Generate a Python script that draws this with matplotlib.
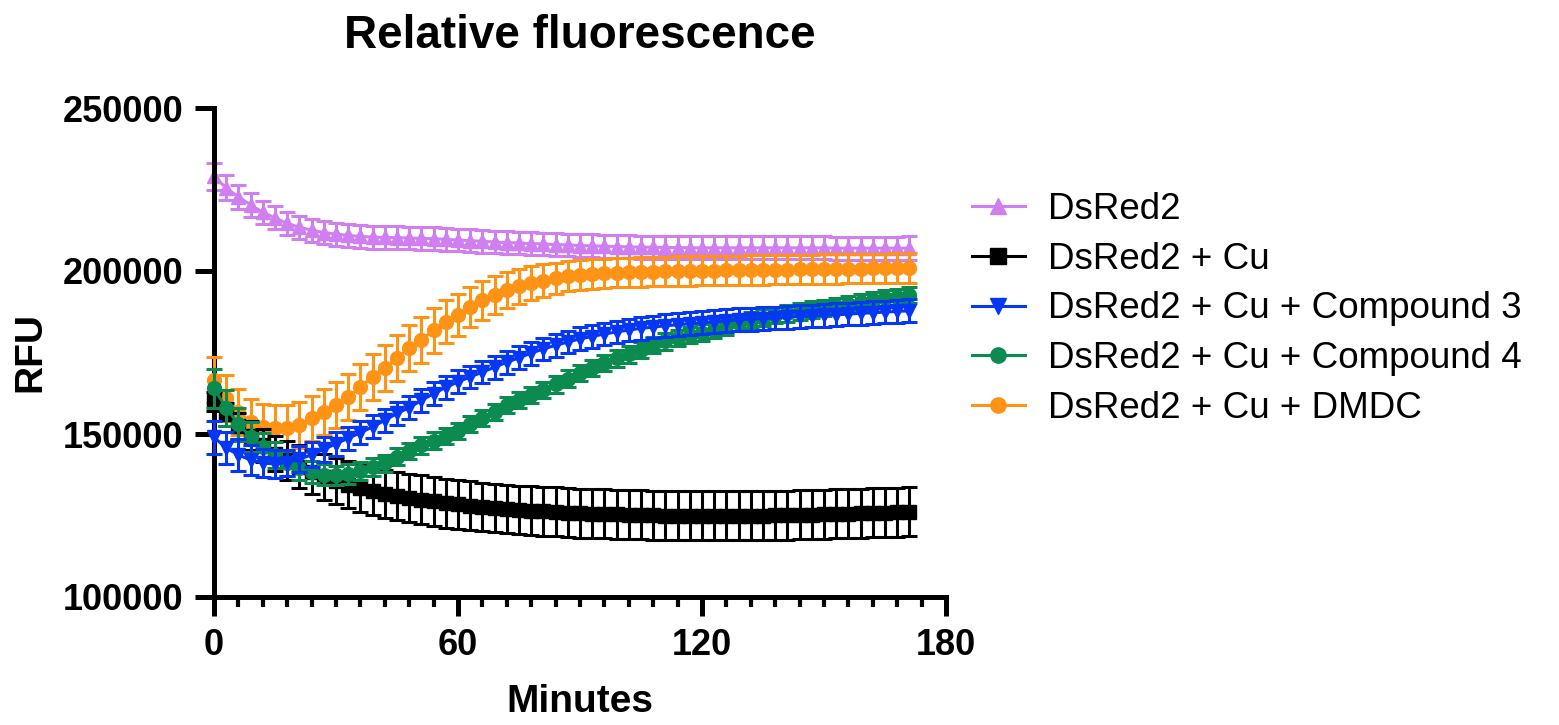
import matplotlib
matplotlib.use("Agg")
import matplotlib.pyplot as plt
from matplotlib.lines import Line2D
from matplotlib.ticker import MultipleLocator

plt.rcParams['font.family'] = ['Liberation Sans', 'DejaVu Sans']

# time points (minutes)
minutes = [0, 3, 6, 9, 12, 15, 18, 21, 24, 27, 30, 33, 36, 39, 42, 45, 48, 51,
           54, 57, 60, 63, 66, 69, 72, 75, 78, 81, 84, 87, 90, 93, 96, 99, 102,
           105, 108, 111, 114, 117, 120, 123, 126, 129, 132, 135, 138, 141, 144,
           147, 150, 153, 156, 159, 162, 165, 168, 171]

dsred2 = [229000, 225500, 222700, 220300, 218000, 216300, 214600, 213400, 212500,
          211800, 211300, 210900, 210600, 210400, 210300, 210200, 210100, 210000,
          209900, 209700, 209500, 209300, 209100, 208900, 208700, 208600, 208400,
          208300, 208100, 208000, 207800, 207700, 207600, 207500, 207400, 207300,
          207300, 207200, 207200, 207100, 207100, 207100, 207100, 207100, 207100,
          207100, 207100, 207100, 207100, 207100, 207100, 207000, 207000, 207000,
          207000, 207000, 207000, 207000]
dsred2_err = [4000, 3800, 3700, 3600, 3600, 3500, 3500, 3500, 3500, 3500, 3500,
              3500, 3500, 3500, 3500, 3500, 3500, 3500, 3500, 3500, 3500, 3500,
              3500, 3500, 3500, 3500, 3500, 3500, 3500, 3500, 3500, 3500, 3500,
              3500, 3500, 3500, 3500, 3500, 3500, 3500, 3500, 3500, 3500, 3500,
              3500, 3500, 3500, 3500, 3500, 3500, 3500, 3500, 3500, 3500, 3500,
              3500, 3500, 3600]

cu = [160000, 156000, 152500, 149500, 146500, 144000, 142000, 140000, 138300,
      136800, 135500, 134400, 133400, 132500, 131700, 131000, 130400, 129800,
      129300, 128800, 128400, 128000, 127600, 127300, 127000, 126700, 126500,
      126300, 126100, 125900, 125700, 125600, 125500, 125400, 125300, 125200,
      125100, 125000, 125000, 124900, 124900, 124900, 124900, 124900, 125000,
      125000, 125100, 125100, 125200, 125300, 125400, 125500, 125600, 125700,
      125800, 125900, 126000, 126100]
cu_err = [3000, 3500, 4000, 4500, 5000, 5500, 6000, 6500, 6800, 7000, 7100,
          7200, 7300, 7300, 7400, 7400, 7400, 7500, 7500, 7500, 7500, 7500,
          7500, 7500, 7500, 7500, 7500, 7500, 7500, 7500, 7500, 7500, 7500,
          7500, 7500, 7500, 7500, 7500, 7500, 7500, 7500, 7500, 7500, 7500,
          7500, 7500, 7500, 7500, 7500, 7500, 7500, 7500, 7500, 7500, 7500,
          7500, 7500, 7500]

comp3 = [149000, 145700, 143600, 142000, 141100, 140800, 141200, 142300, 143600,
         145300, 147000, 148700, 150400, 152200, 154200, 156300, 158100, 160300,
         162400, 164300, 166000, 167500, 169000, 170500, 172000, 173400, 174800,
         176100, 177200, 178200, 179200, 179900, 180700, 181300, 181900, 182400,
         182800, 183200, 183500, 183800, 184100, 184400, 184700, 185000, 185200,
         185400, 185600, 185800, 186000, 186200, 186400, 186600, 186800, 187000,
         187200, 187400, 187600, 187800]
comp3_err = [5000, 5000, 4800, 4600, 4400, 4200, 4000, 4000, 3800, 3800, 3600,
             3600, 3500, 3500, 3500, 3500, 3500, 3500, 3500, 3500, 3500, 3500,
             3500, 3500, 3500, 3500, 3500, 3500, 3500, 3500, 3500, 3500, 3500,
             3500, 3500, 3500, 3500, 3500, 3500, 3500, 3500, 3500, 3500, 3500,
             3500, 3500, 3500, 3500, 3500, 3500, 3500, 3500, 3500, 3500, 3500,
             3500, 3500, 3500]

comp4 = [164000, 158000, 153000, 149200, 146000, 143500, 141000, 139600, 138300,
         137500, 137300, 137800, 138700, 139800, 141000, 143000, 144800, 146500,
         148000, 149300, 151000, 153000, 155000, 156800, 158800, 160500, 162000,
         163600, 165200, 167000, 168700, 170300, 171800, 173200, 174400, 175800,
         177200, 178400, 179400, 180300, 181100, 182000, 183000, 184000, 185000,
         185700, 186400, 187000, 187600, 188200, 188700, 189200, 189800, 190400,
         191000, 191600, 192100, 192600]
comp4_err = [6000, 5500, 5000, 4600, 4300, 4000, 3800, 3600, 3400, 3200, 3000,
             3000, 2800, 2800, 2600, 2600, 2500, 2500, 2500, 2500, 2500, 2500,
             2500, 2500, 2500, 2500, 2500, 2500, 2500, 2500, 2500, 2500, 2500,
             2500, 2500, 2500, 2500, 2500, 2500, 2500, 2500, 2500, 2500, 2500,
             2500, 2500, 2500, 2500, 2500, 2500, 2500, 2500, 2500, 2500, 2500,
             2500, 2500, 2500]

dmdc = [166600, 161100, 156800, 153700, 152200, 151800, 151800, 152800, 154800,
        156800, 158900, 161400, 164400, 167500, 170300, 173300, 176300, 178900,
        181800, 184400, 186600, 189000, 191000, 192700, 194200, 195300, 196300,
        197000, 197800, 198400, 198800, 199100, 199300, 199500, 199600, 199700,
        199800, 199900, 200000, 200000, 200100, 200100, 200200, 200200, 200300,
        200300, 200400, 200400, 200500, 200500, 200600, 200600, 200700, 200700,
        200800, 200800, 200900, 200900]
dmdc_err = [7000, 7000, 7000, 7000, 7000, 7000, 7000, 7000, 7000, 7000, 7000,
            7000, 7000, 7000, 7000, 7000, 7000, 7000, 6800, 6600, 6400, 6200,
            6000, 5800, 5600, 5400, 5200, 5000, 4800, 4600, 4500, 4500, 4500,
            4500, 4500, 4500, 4500, 4500, 4500, 4500, 4500, 4500, 4500, 4500,
            4500, 4500, 4500, 4500, 4500, 4500, 4500, 4500, 4500, 4500, 4500,
            4500, 4500, 4500]

labels = ["DsRed2", "DsRed2 + Cu", "DsRed2 + Cu + Compound 3",
          "DsRed2 + Cu + Compound 4", "DsRed2 + Cu + DMDC"]
colors = ["#CF7FEF", "#000000", "#0637F5", "#0B8B4F", "#FF9315"]
markers = ["^", "s", "v", "o", "o"]
zorders = [2, 4, 6, 5, 3]

series = [(dsred2, dsred2_err), (cu, cu_err), (comp3, comp3_err),
          (comp4, comp4_err), (dmdc, dmdc_err)]

fig = plt.figure(figsize=(15.59, 7.25), dpi=100)
ax = fig.add_axes([214 / 1559, 1 - 597 / 725, 732 / 1559, 489 / 725])

handles = []
for (vals, err), lab, col, mk, zo in zip(series, labels, colors, markers, zorders):
    ax.errorbar(minutes, vals, yerr=err, fmt='-', marker=mk, color=col,
                ms=10, lw=2.2, elinewidth=2.2, capsize=5.5, capthick=2.2,
                zorder=zo, clip_on=False)
    handles.append(Line2D([], [], color=col, marker=mk, ms=11, lw=2.2))

ax.set_xlim(0, 180)
ax.set_ylim(100000, 250000)
ax.xaxis.set_major_locator(MultipleLocator(60))
ax.xaxis.set_minor_locator(MultipleLocator(6))
ax.yaxis.set_major_locator(MultipleLocator(50000))

for s in ['top', 'right']:
    ax.spines[s].set_visible(False)
for s in ['left', 'bottom']:
    ax.spines[s].set_linewidth(3.6)
ax.tick_params(which='major', length=14, width=3.6, pad=8, labelsize=26)
ax.tick_params(which='minor', length=7, width=3)
for lbl in ax.get_xticklabels() + ax.get_yticklabels():
    lbl.set_fontweight('bold')

fig.text(580 / 1559, 1 - 48 / 725, "Relative fluorescence", ha='center',
         va='baseline', fontsize=33, fontweight='bold')
fig.text(30 / 1559, 1 - 352 / 725, "RFU", ha='center', va='center',
         rotation=90, fontsize=28, fontweight='bold')
fig.text(580 / 1559, 1 - 712 / 725, "Minutes", ha='center', va='baseline',
         fontsize=28, fontweight='bold')

fig.legend(handles, labels, loc='upper left',
           bbox_to_anchor=(972 / 1559, 1 - 192 / 725), frameon=False,
           fontsize=26.5, handlelength=1.44, handletextpad=0.62,
           labelspacing=0.4, borderpad=0, borderaxespad=0)

fig.savefig("out.png", dpi=100)
